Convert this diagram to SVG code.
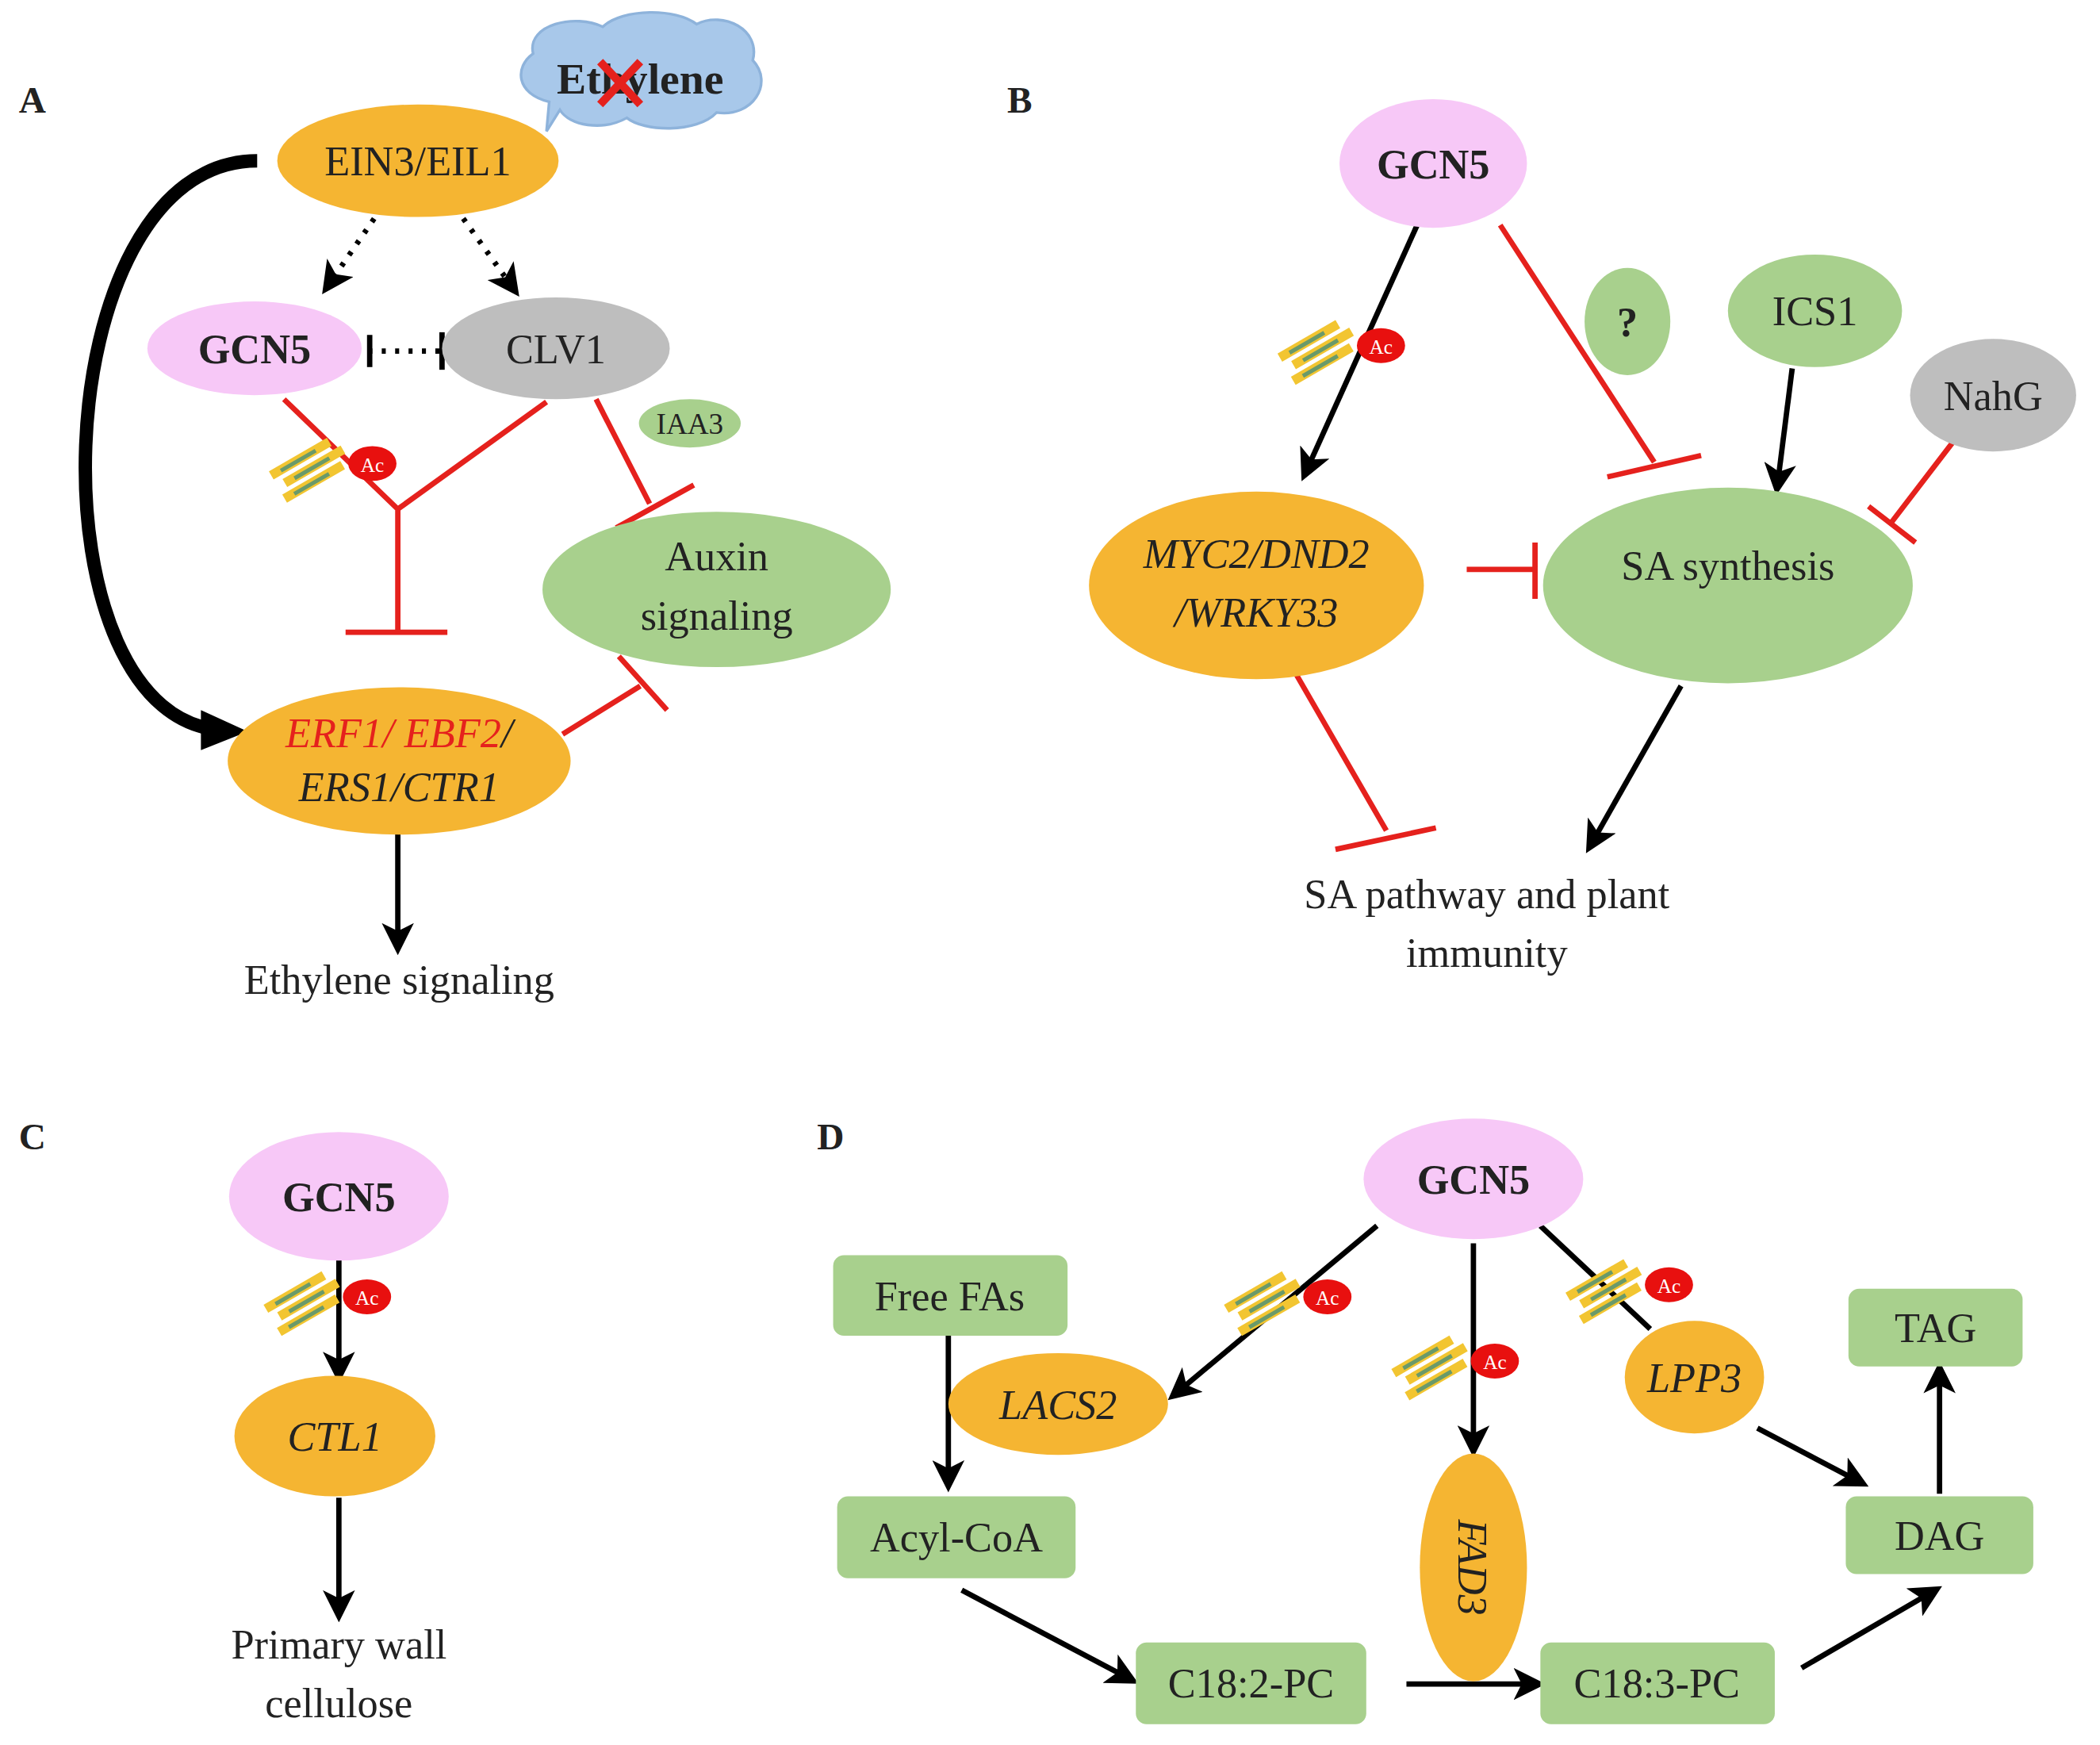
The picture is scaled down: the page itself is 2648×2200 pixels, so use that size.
<svg xmlns="http://www.w3.org/2000/svg" xmlns:xlink="http://www.w3.org/1999/xlink" width="2648" height="2200" viewBox="0 0 2648 2200">
<style>
text{font-family:"Liberation Serif","Times New Roman",serif;font-size:31px;fill:#222;text-anchor:middle}
.b{font-weight:bold}
.i{font-style:italic}
.lab{font-weight:bold;font-size:28px;text-anchor:start}
.or{fill:#F5B532}.pk{fill:#F7C8F7}.gy{fill:#BEBEBE}.gr{fill:#A8D08D}
.ar{stroke:#000;stroke-width:4;fill:none;marker-end:url(#ah)}
.rd{stroke:#E5211D;stroke-width:4;fill:none}
</style>
<defs>
<marker id="ah" markerWidth="6" markerHeight="6" refX="4" refY="3" orient="auto" markerUnits="strokeWidth"><path d="M0,0L6,3L0,6L1.5,3z" fill="#000"/></marker>
<g id="nuc">
<g transform="rotate(-30)">
<rect x="-28" y="-14" width="50" height="7" fill="#F2C531"/>
<rect x="-22" y="-4" width="50" height="7" fill="#F2C531"/>
<rect x="-28" y="6" width="50" height="7" fill="#F2C531"/>
<line x1="-20" y1="-10" x2="10" y2="-10" stroke="#6A9A6A" stroke-width="3"/>
<line x1="-14" y1="0" x2="16" y2="0" stroke="#6A9A6A" stroke-width="3"/>
<line x1="-20" y1="10" x2="10" y2="10" stroke="#6A9A6A" stroke-width="3"/>
</g>
<ellipse cx="46" cy="-4" rx="18" ry="13" fill="#E8100F"/>
<text x="46" y="2" style="font-size:15px;fill:#fff">Ac</text>
</g>
</defs>
<rect width="2648" height="2200" fill="#fff"/>
<g transform="scale(1.689)">
<g id="labels">
<text x="14" y="84" class="lab">A</text>
<text x="752" y="84" class="lab">B</text>
<text x="14" y="858" class="lab">C</text>
<text x="610" y="858" class="lab">D</text>
</g>
<g id="connectors">
<path d="M192,120 C30,120 20,545 170,545" stroke="#000" stroke-width="10" fill="none"/>
<path d="M150,530 L185,546 L150,560 Z" fill="#000"/>
<line x1="285" y1="155" x2="245" y2="213" stroke="#000" stroke-width="4" stroke-dasharray="3 7" marker-end="url(#ah)"/>
<line x1="340" y1="155" x2="383" y2="215" stroke="#000" stroke-width="4" stroke-dasharray="3 7" marker-end="url(#ah)"/>
<line x1="275" y1="262" x2="328" y2="262" stroke="#000" stroke-width="4" stroke-dasharray="3 7"/>
<line x1="276" y1="250" x2="276" y2="274" stroke="#000" stroke-width="4"/>
<line x1="330" y1="248" x2="330" y2="276" stroke="#000" stroke-width="4"/>
<path class="rd" d="M212,298 L297,380 L408,300 M297,380 L297,472 M258,472 L334,472"/>
<path class="rd" d="M445,298 L485,376 M460,394 L518,362"/>
<path class="rd" d="M420,548 L478,512 M462,490 L498,530"/>
<line class="ar" x1="297" y1="622" x2="297" y2="705"/>
<line class="ar" x1="1058" y1="168" x2="975" y2="352"/>
<path class="rd" d="M1120,168 L1235,345 M1200,356 L1270,340"/>
<line class="ar" x1="1338" y1="275" x2="1327" y2="362"/>
<path class="rd" d="M1458,330 L1412,390 M1395,378 L1430,405"/>
<path class="rd" d="M1095,425 L1145,425 M1146,405 L1146,447"/>
<line class="ar" x1="1255" y1="512" x2="1188" y2="630"/>
<path class="rd" d="M960,490 L1035,620 M997,634 L1072,618"/>
<line class="ar" x1="253" y1="940" x2="253" y2="1025"/>
<line class="ar" x1="253" y1="1118" x2="253" y2="1203"/>
<line class="ar" x1="1028" y1="915" x2="878" y2="1040"/>
<line class="ar" x1="708" y1="997" x2="708" y2="1106"/>
<line class="ar" x1="1100" y1="928" x2="1100" y2="1080"/>
<line x1="1150" y1="915" x2="1232" y2="992" stroke="#000" stroke-width="4"/>
<line class="ar" x1="1312" y1="1066" x2="1388" y2="1106"/>
<line class="ar" x1="1448" y1="1115" x2="1448" y2="1024"/>
<line class="ar" x1="718" y1="1187" x2="843" y2="1253"/>
<line class="ar" x1="1050" y1="1257" x2="1146" y2="1257"/>
<line class="ar" x1="1345" y1="1245" x2="1443" y2="1188"/>
</g>
<g id="icons">
<use href="#nuc" x="232" y="350"/>
<use href="#nuc" x="985" y="262"/>
<use href="#nuc" x="228" y="972"/>
<use href="#nuc" x="945" y="972"/>
<use href="#nuc" x="1070" y="1020"/>
<use href="#nuc" x="1200" y="963"/>
</g>
<g id="ethylene">
<path d="M398,40 C393,18 430,10 450,20 C465,6 505,6 520,18 C540,8 568,22 562,45 C578,62 562,88 535,84 C520,100 480,98 468,88 C450,98 425,94 418,82 L408,98 L410,76 C385,70 384,50 398,40 Z" fill="#A8C8EA" stroke="#8EB3DB" stroke-width="2"/>
<text x="478" y="70" class="b" style="font-size:33px">Ethylene</text>
<path d="M448,46 L478,78 M478,46 L448,78" stroke="#E5211D" stroke-width="6"/>
</g>
<g id="ein3"><ellipse cx="312" cy="120" rx="105" ry="42" class="or"/><text x="312" y="131">EIN3/EIL1</text></g>
<g id="gcn5a"><ellipse cx="190" cy="260" rx="80" ry="35" class="pk"/><text x="190" y="271" class="b">GCN5</text></g>
<g id="clv1"><ellipse cx="415" cy="260" rx="85" ry="38" class="gy"/><text x="415" y="271">CLV1</text></g>
<g id="iaa3"><ellipse cx="515" cy="316" rx="38" ry="18" class="gr"/><text x="515" y="324" style="font-size:22px">IAA3</text></g>
<g id="auxin"><ellipse cx="535" cy="440" rx="130" ry="58" class="gr"/><text x="535" y="426">Auxin</text><text x="535" y="470">signaling</text></g>
<g id="erf"><ellipse cx="298" cy="568" rx="128" ry="55" class="or"/>
<text x="298" y="558" class="i"><tspan fill="#E5211D">ERF1/ EBF2</tspan>/</text>
<text x="298" y="598" class="i">ERS1/CTR1</text></g>
<g id="ethsig"><text x="298" y="742">Ethylene signaling</text></g>
<g id="gcn5b"><ellipse cx="1070" cy="122" rx="70" ry="48" class="pk"/><text x="1070" y="133" class="b">GCN5</text></g>
<g id="q"><ellipse cx="1215" cy="240" rx="32" ry="40" class="gr"/><text x="1215" y="251" class="b">?</text></g>
<g id="ics1"><ellipse cx="1355" cy="232" rx="65" ry="42" class="gr"/><text x="1355" y="243">ICS1</text></g>
<g id="nahg"><ellipse cx="1488" cy="295" rx="62" ry="42" class="gy"/><text x="1488" y="306">NahG</text></g>
<g id="myc2"><ellipse cx="938" cy="437" rx="125" ry="70" class="or"/><text x="938" y="424" class="i">MYC2/DND2</text><text x="938" y="468" class="i">/WRKY33</text></g>
<g id="sasyn"><ellipse cx="1290" cy="437" rx="138" ry="73" class="gr"/><text x="1290" y="433">SA synthesis</text></g>
<g id="sapath"><text x="1110" y="678">SA pathway and plant</text><text x="1110" y="722">immunity</text></g>
<g id="gcn5c"><ellipse cx="253" cy="893" rx="82" ry="48" class="pk"/><text x="253" y="904" class="b">GCN5</text></g>
<g id="ctl1"><ellipse cx="250" cy="1072" rx="75" ry="45" class="or"/><text x="250" y="1083" class="i">CTL1</text></g>
<g id="pwc"><text x="253" y="1238">Primary wall</text><text x="253" y="1282">cellulose</text></g>
<g id="gcn5d"><ellipse cx="1100" cy="880" rx="82" ry="45" class="pk"/><text x="1100" y="891" class="b">GCN5</text></g>
<g id="freefa"><rect x="622" y="937" width="175" height="60" rx="8" class="gr"/><text x="709" y="978">Free FAs</text></g>
<g id="acyl"><rect x="625" y="1117" width="178" height="61" rx="8" class="gr"/><text x="714" y="1158">Acyl-CoA</text></g>
<g id="lacs2"><ellipse cx="790" cy="1048" rx="82" ry="38" class="or"/><text x="790" y="1059" class="i">LACS2</text></g>
<g id="fad3"><ellipse cx="1100" cy="1170" rx="40" ry="85" class="or"/><text transform="translate(1089,1170) rotate(90)" class="i">FAD3</text></g>
<g id="lpp3"><ellipse cx="1265" cy="1028" rx="52" ry="42" class="or"/><text x="1265" y="1039" class="i">LPP3</text></g>
<g id="tag"><rect x="1380" y="962" width="130" height="58" rx="8" class="gr"/><text x="1445" y="1002">TAG</text></g>
<g id="dag"><rect x="1378" y="1117" width="140" height="58" rx="8" class="gr"/><text x="1448" y="1157">DAG</text></g>
<g id="c182"><rect x="848" y="1226" width="172" height="61" rx="8" class="gr"/><text x="934" y="1267">C18:2-PC</text></g>
<g id="c183"><rect x="1150" y="1226" width="175" height="61" rx="8" class="gr"/><text x="1237" y="1267">C18:3-PC</text></g>
</g>
</svg>
